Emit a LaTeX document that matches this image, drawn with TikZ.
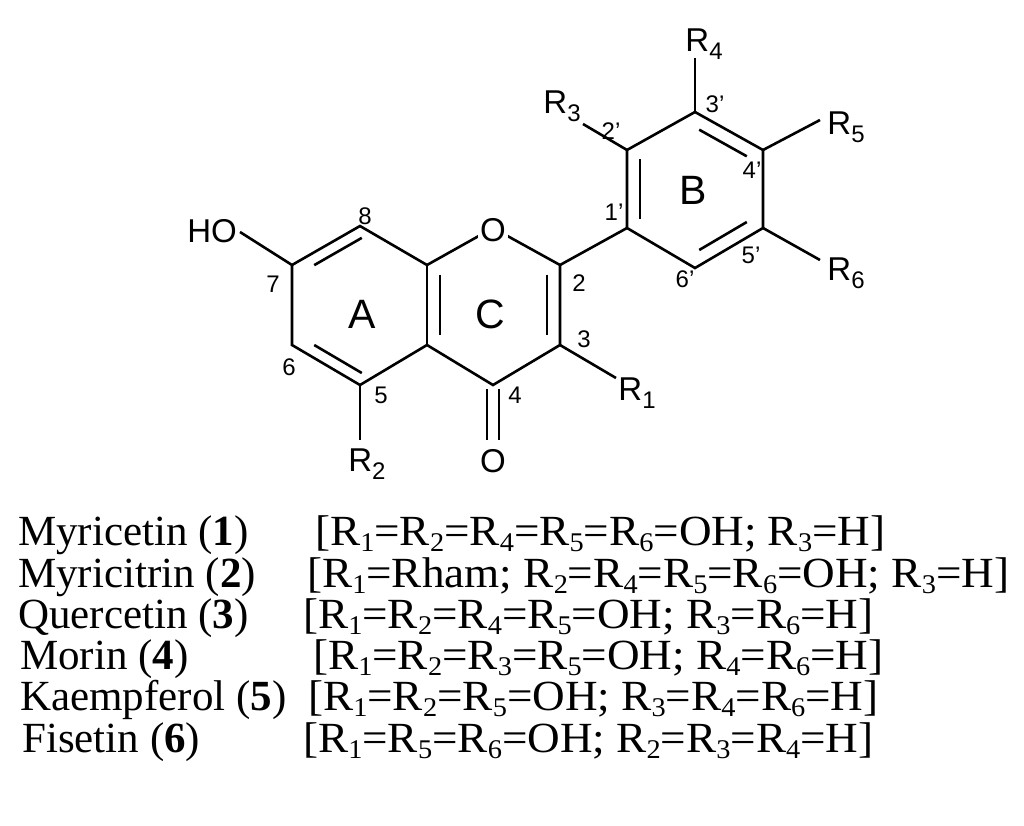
\documentclass[tikz,border=0pt]{standalone}
\usepackage{fontspec}
\usetikzlibrary{calc}
\setmainfont{Liberation Serif}
\setsansfont{Liberation Sans}
\newcommand{\rsub}[1]{\raisebox{-0.25em}{\fontsize{24}{24}\selectfont #1}}
\newcommand{\lsub}[1]{\raisebox{-0.14em}{\fontsize{27}{27}\selectfont #1}}
\newcommand{\wid}[1]{\scalebox{1.05}[1]{#1}}
\begin{document}
\begin{tikzpicture}[x=1pt,y=-1pt,
  bond/.style={line width=2.6pt},
  lab/.style={font=\sffamily\fontsize{33}{33}\selectfont, inner sep=0pt},
  num/.style={font=\sffamily\fontsize{24}{24}\selectfont, inner sep=0pt},
  big/.style={font=\sffamily\fontsize{41}{41}\selectfont, inner sep=0pt},
  row/.style={font=\fontsize{43}{43}\selectfont, anchor=base west, inner sep=0pt}]
\useasboundingbox (0,0) rectangle (1024,825);
% A/C ring atoms
\coordinate (c7) at (292,265);
\coordinate (c8) at (360,226);
\coordinate (c8a) at (427,265);
\coordinate (o1) at (493,228);
\coordinate (c2) at (560,265);
\coordinate (c3) at (560,345);
\coordinate (c4) at (493,385);
\coordinate (c4a) at (427,345);
\coordinate (c5) at (360,385);
\coordinate (c6) at (292,345);
% B ring
\coordinate (b1) at (627,228);
\coordinate (b2) at (627,150);
\coordinate (b3) at (695,112);
\coordinate (b4) at (763,150);
\coordinate (b5) at (763,228);
\coordinate (b6) at (695,268);
% substituents
\coordinate (ho) at (240,232);
\coordinate (r2e) at (360,440);
\coordinate (oe) at (493,440);
\coordinate (r1e) at (616,378);
\coordinate (r3e) at (583,124);
\coordinate (r4e) at (695,58);
\coordinate (r5e) at (820,120);
\coordinate (r6e) at (820,260);
% bonds
\draw[bond] (ho) -- (c7) -- (c8) -- (c8a) -- (o1);
\draw[bond] (o1) -- (c2) -- (c3) -- (c4) -- (c4a) -- (c5) -- (c6) -- (c7);
\draw[bond] (c8a) -- (c4a);
\draw[bond] (c2) -- (b1);
\draw[bond,line join=miter] (b1) -- (b2) -- (b3) -- (b4) -- (b5) -- (b6) -- cycle;
\draw[bond] (c5) -- (r2e);
\draw[bond] (c3) -- (r1e);
\draw[bond] (b2) -- (r3e);
\draw[bond] (b3) -- (r4e);
\draw[bond] (b4) -- (r5e);
\draw[bond] (b5) -- (r6e);
% inner double bonds
\draw[bond] ($(c7)!0.15!(c8)+(12,6)$) -- ($(c7)!0.85!(c8)+(12,6)$);
\draw[bond] ($(c6)!0.15!(c5)+(12,-6)$) -- ($(c6)!0.85!(c5)+(12,-6)$);
\draw[bond] ($(c8a)!0.12!(c4a)+(13,0)$) -- ($(c8a)!0.88!(c4a)+(13,0)$);
\draw[bond] ($(c2)!0.12!(c3)+(-13,0)$) -- ($(c2)!0.88!(c3)+(-13,0)$);
\draw[bond] ($(b1)!0.12!(b2)+(13,0)$) -- ($(b1)!0.88!(b2)+(13,0)$);
\draw[bond] ($(b3)!0.15!(b4)+(-6,12)$) -- ($(b3)!0.85!(b4)+(-6,12)$);
\draw[bond] ($(b5)!0.15!(b6)+(-6,-12)$) -- ($(b5)!0.85!(b6)+(-6,-12)$);
\draw[bond] ($(c4)+(-6,4)$) -- ($(oe)+(-6,0)$);
\draw[bond] ($(c4)+(6,4)$) -- ($(oe)+(6,0)$);
% atom labels
\node[lab, fill=white, inner sep=2pt] (oring) at (493,230) {O};
\node[lab] (ocarb) at (493,461) {O};
\node[lab] (hol) at (212,231) {HO};
\node[lab] (r1) at (637,393) {R\rsub{1}};
\node[lab] (r2) at (367,464) {R\rsub{2}};
\node[lab] (r3) at (562,106) {R\rsub{3}};
\node[lab] (r4) at (704,44) {R\rsub{4}};
\node[lab] (r5) at (846,127) {R\rsub{5}};
\node[lab] (r6) at (846,273) {R\rsub{6}};
% ring letters
\node[big] (la) at (362,314) {A};
\node[big] (lc) at (490,314) {C};
\node[big] (lb) at (693,190) {B};
% numbering
\node[num] (n8) at (365,216) {8};
\node[num] (n7) at (273,284) {7};
\node[num] (n6) at (289,367) {6};
\node[num] (n5) at (381,395) {5};
\node[num] (n4) at (515,395) {4};
\node[num] (n3) at (584,339) {3};
\node[num] (n2) at (579,283) {2};
\node[num] (n1p) at (614,212) {1'};
\node[num] (n2p) at (611,131) {2'};
\node[num] (n3p) at (715,104) {3'};
\node[num] (n4p) at (752,170) {4'};
\node[num] (n5p) at (751,255) {5'};
\node[num] (n6p) at (685,279) {6'};
% compound table
\node[row] (m1) at (18,545) {Myricetin (\textbf{1})};
\node[row] (s1) at (315,545) {\wid{[R\lsub{1}=R\lsub{2}=R\lsub{4}=R\lsub{5}=R\lsub{6}=OH; R\lsub{3}=H]}};
\node[row] (m2) at (18,587) {Myricitrin (\textbf{2})};
\node[row] (s2) at (307,587) {\wid{[R\lsub{1}=Rham; R\lsub{2}=R\lsub{4}=R\lsub{5}=R\lsub{6}=OH; R\lsub{3}=H]}};
\node[row] (m3) at (18,628) {Quercetin (\textbf{3})};
\node[row] (s3) at (303,628) {\wid{[R\lsub{1}=R\lsub{2}=R\lsub{4}=R\lsub{5}=OH; R\lsub{3}=R\lsub{6}=H]}};
\node[row] (m4) at (20,669) {Morin (\textbf{4})};
\node[row] (s4) at (313,669) {\wid{[R\lsub{1}=R\lsub{2}=R\lsub{3}=R\lsub{5}=OH; R\lsub{4}=R\lsub{6}=H]}};
\node[row] (m5) at (20,710) {Kaempferol (\textbf{5})};
\node[row] (s5) at (308,710) {\wid{[R\lsub{1}=R\lsub{2}=R\lsub{5}=OH; R\lsub{3}=R\lsub{4}=R\lsub{6}=H]}};
\node[row] (m6) at (22,752) {Fisetin (\textbf{6})};
\node[row] (s6) at (303,752) {\wid{[R\lsub{1}=R\lsub{5}=R\lsub{6}=OH; R\lsub{2}=R\lsub{3}=R\lsub{4}=H]}};
\end{tikzpicture}
\end{document}
